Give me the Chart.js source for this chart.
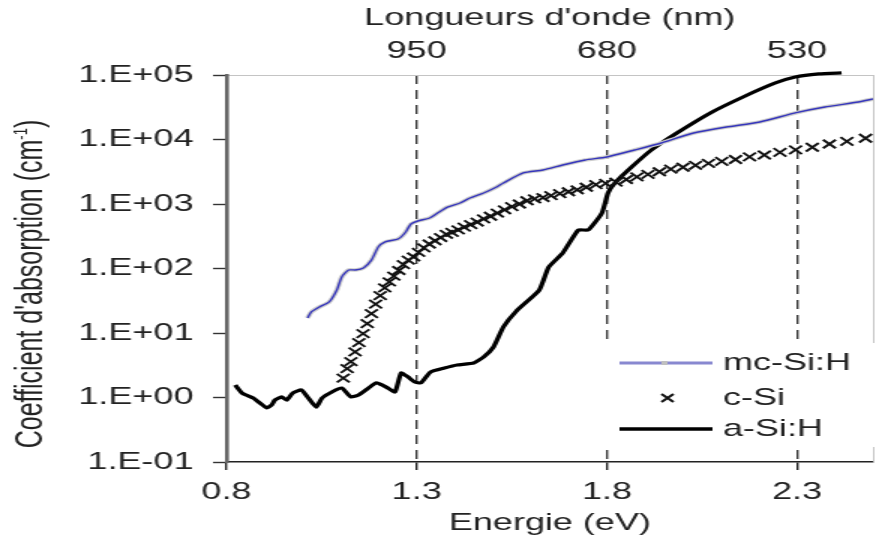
<!DOCTYPE html>
<html>
<head>
<meta charset="utf-8">
<script src="https://cdn.jsdelivr.net/npm/chart.js"></script>
<style>
  html, body { margin: 0; padding: 0; background: #fff; overflow: hidden; }
  /* l'image d'origine est etiree horizontalement : on dessine sur 590px puis on etire x1.5 */
  #wrap { width: 590px; height: 546px; transform: scaleX(1.5); transform-origin: 0 0; }
</style>
</head>
<body>
<div id="wrap"><canvas id="absorption" width="590" height="546"></canvas></div>
<script>
// axes
const xTicks = [0.8, 1.3, 1.8, 2.3];
const topTicks = [1.3, 1.8, 2.3];
const topLabels = ['950', '680', '530'];
const yTicks = [0.1, 1, 10, 100, 1000, 10000, 100000];
const yLabels = ['1.E-01', '1.E+00', '1.E+01', '1.E+02', '1.E+03', '1.E+04', '1.E+05'];

// mc-Si:H
const energieMc = [1.013, 1.023, 1.044, 1.070, 1.090, 1.103, 1.121, 1.139, 1.160, 1.181, 1.199, 1.217, 1.251, 1.269, 1.285, 1.303, 1.334, 1.355, 1.381, 1.414, 1.440, 1.476, 1.510, 1.528, 1.580, 1.632, 1.684, 1.743, 1.800, 1.873, 1.943, 2.028, 2.114, 2.202, 2.295, 2.373, 2.461, 2.500];
const alphaMc = [17.1, 21.2, 25.3, 30.3, 46.4, 73.9, 94.8, 94.8, 102, 135, 215, 258, 287, 355, 490, 545, 607, 725, 897, 1037, 1239, 1482, 1837, 2118, 3027, 3367, 4027, 4812, 5357, 6880, 8830, 12600, 15600, 18700, 25800, 31900, 38100, 42500];

// c-Si (un point tous les 10 nm)
const energieC = [1.107, 1.117, 1.127, 1.138, 1.148, 1.159, 1.170, 1.181, 1.192, 1.204, 1.216, 1.228, 1.240, 1.253, 1.265, 1.278, 1.292, 1.305, 1.319, 1.333, 1.348, 1.363, 1.378, 1.393, 1.409, 1.425, 1.442, 1.459, 1.476, 1.494, 1.512, 1.531, 1.550, 1.570, 1.590, 1.610, 1.632, 1.653, 1.676, 1.699, 1.722, 1.746, 1.771, 1.797, 1.824, 1.851, 1.879, 1.908, 1.938, 1.968, 2.000, 2.033, 2.067, 2.102, 2.138, 2.175, 2.214, 2.255, 2.296, 2.340, 2.385, 2.431, 2.480];
const alphaC = [2.0, 2.8, 3.6, 5.1, 7.1, 9.8, 14, 20, 28, 38, 50, 62, 76, 93, 115, 135, 151, 178, 209, 240, 269, 302, 339, 363, 398, 437, 479, 525, 589, 646, 724, 813, 912, 1000, 1122, 1202, 1259, 1349, 1445, 1549, 1660, 1820, 1995, 2089, 2188, 2399, 2630, 2884, 3162, 3467, 3715, 3981, 4266, 4571, 4898, 5370, 5754, 6310, 6918, 7586, 8511, 9333, 10470];

// a-Si:H
const energieA = [0.823, 0.841, 0.870, 0.888, 0.906, 0.919, 0.927, 0.945, 0.958, 0.974, 0.997, 1.013, 1.036, 1.051, 1.077, 1.103, 1.127, 1.147, 1.173, 1.194, 1.220, 1.243, 1.259, 1.277, 1.295, 1.311, 1.336, 1.373, 1.406, 1.450, 1.476, 1.502, 1.528, 1.562, 1.622, 1.647, 1.684, 1.725, 1.751, 1.787, 1.803, 1.821, 1.865, 1.917, 1.984, 2.072, 2.158, 2.243, 2.295, 2.357, 2.417];
const alphaA = [1.56, 1.17, 0.98, 0.82, 0.69, 0.77, 0.91, 1.02, 0.91, 1.17, 1.31, 1.02, 0.71, 0.98, 1.22, 1.40, 1.02, 1.09, 1.40, 1.68, 1.45, 1.22, 2.40, 2.08, 1.74, 1.68, 2.48, 2.86, 3.19, 3.43, 4.25, 6.07, 12.4, 21.9, 46, 105, 174, 395, 395, 725, 1482, 2118, 3750, 6880, 12600, 25800, 45600, 75200, 93100, 104000, 108000];

const points = (xs, ys) => xs.map((e, i) => ({ x: e, y: ys[i] }));

Chart.defaults.font.family = '"Liberation Sans", Arial, sans-serif';
Chart.defaults.font.size = 24;
Chart.defaults.color = '#222';

// titre de l'axe y avec exposant
const titreY = {
  id: 'titreY',
  afterDraw(chart) {
    const ctx = chart.ctx;
    const main = "Coefficient d'absorption (cm";
    const sup = '-1';
    const fin = ')';
    ctx.save();
    ctx.translate(21, 284);
    ctx.rotate(-Math.PI / 2);
    ctx.fillStyle = '#222';
    ctx.textBaseline = 'middle';
    ctx.font = '25px "Liberation Sans", Arial, sans-serif';
    const w1 = ctx.measureText(main).width;
    const w3 = ctx.measureText(fin).width;
    ctx.font = '13px "Liberation Sans", Arial, sans-serif';
    const w2 = ctx.measureText(sup).width;
    let x = -(w1 + w2 + w3) / 2;
    ctx.font = '25px "Liberation Sans", Arial, sans-serif';
    ctx.fillText(main, x, 0);
    x += w1;
    ctx.font = '13px "Liberation Sans", Arial, sans-serif';
    ctx.fillText(sup, x, -7);
    x += w2;
    ctx.font = '25px "Liberation Sans", Arial, sans-serif';
    ctx.fillText(fin, x, 0);
    ctx.restore();
  }
};

// legende dans le coin bas droit
const legende = {
  id: 'legende',
  afterDraw(chart) {
    const ctx = chart.ctx;
    ctx.save();
    ctx.fillStyle = '#fff';
    ctx.fillRect(401, 343, 186, 104);
    ctx.font = '24px "Liberation Sans", Arial, sans-serif';
    ctx.textBaseline = 'middle';
    ctx.lineCap = 'butt';
    // mc-Si:H
    ctx.strokeStyle = '#8888d0';
    ctx.lineWidth = 3;
    ctx.beginPath(); ctx.moveTo(413, 363); ctx.lineTo(475, 363); ctx.stroke();
    ctx.fillStyle = '#c0c0c0';
    ctx.fillRect(441, 361, 4, 4);
    // c-Si
    ctx.strokeStyle = '#111';
    ctx.lineWidth = 1.9;
    ctx.beginPath();
    ctx.moveTo(441, 394); ctx.lineTo(449, 402);
    ctx.moveTo(441, 402); ctx.lineTo(449, 394);
    ctx.stroke();
    // a-Si:H
    ctx.strokeStyle = '#000';
    ctx.lineWidth = 3.5;
    ctx.beginPath(); ctx.moveTo(413, 429); ctx.lineTo(475, 429); ctx.stroke();
    ctx.fillStyle = '#222';
    ctx.fillText('mc-Si:H', 482, 363);
    ctx.fillText('c-Si', 482, 398);
    ctx.fillText('a-Si:H', 482, 429);
    ctx.restore();
  }
};

// l'ordre des datasets : le premier est dessine au-dessus
new Chart(document.getElementById('absorption'), {
  type: 'scatter',
  data: {
    datasets: [
      {
        label: 'mc-Si:H',
        data: points(energieMc, alphaMc),
        showLine: true,
        borderColor: '#3636bc',
        borderWidth: 1.4,
        pointRadius: 0,
        tension: 0.2
      },
      {
        label: 'mc-Si:H (fond)',
        data: points(energieMc, alphaMc),
        showLine: true,
        borderColor: '#cdcdcd',
        borderWidth: 3.6,
        pointRadius: 0,
        tension: 0.2
      },
      {
        label: 'c-Si',
        data: points(energieC, alphaC),
        showLine: false,
        pointStyle: 'crossRot',
        pointRadius: 6,
        pointBorderWidth: 1.9,
        borderColor: '#111',
        backgroundColor: '#111'
      },
      {
        label: 'a-Si:H',
        data: points(energieA, alphaA),
        showLine: true,
        borderColor: '#000',
        borderWidth: 3.2,
        pointRadius: 0,
        tension: 0.15,
        clip: { left: 0, top: 8, right: 0, bottom: 0 }
      }
    ]
  },
  options: {
    responsive: false,
    animation: false,
    layout: { padding: 0 },
    plugins: { legend: { display: false }, tooltip: { enabled: false } },
    scales: {
      x: {
        type: 'linear',
        position: 'bottom',
        min: 0.8,
        max: 2.5,
        afterBuildTicks: s => { s.ticks = xTicks.map(v => ({ value: v })); },
        afterFit: s => { s.height = 84; },
        ticks: { callback: v => v.toFixed(1), autoSkip: false, maxRotation: 0, padding: 8 },
        grid: { color: '#3a3a3a', lineWidth: 1.4, tickLength: 8, tickColor: '#222', tickWidth: 1.4 },
        border: { color: '#222', width: 1.6, dash: [9, 6] },
        title: { display: true, text: 'Energie (eV)', padding: { top: 0, bottom: 8 } }
      },
      x2: {
        type: 'linear',
        position: 'top',
        min: 0.8,
        max: 2.5,
        afterBuildTicks: s => { s.ticks = topTicks.map(v => ({ value: v })); },
        afterFit: s => { s.height = 75; },
        ticks: { callback: (v, i) => topLabels[i], autoSkip: false, maxRotation: 0, padding: 9 },
        grid: { display: false, drawTicks: false },
        border: { color: '#c4c4c4', width: 1 },
        title: { display: true, text: "Longueurs d'onde (nm)", padding: { top: 4, bottom: 0 } }
      },
      y: {
        type: 'logarithmic',
        position: 'left',
        min: 0.1,
        max: 100000,
        afterBuildTicks: s => { s.ticks = yTicks.map(v => ({ value: v, major: true })); },
        afterFit: s => { s.width = 151; },
        ticks: { callback: (v, i) => yLabels[i], autoSkip: false, padding: 13 },
        grid: { drawOnChartArea: false, tickLength: 9, tickColor: '#333', tickWidth: 1.4 },
        border: { color: '#666', width: 2.6 }
      },
      y2: {
        type: 'linear',
        position: 'right',
        min: 0,
        max: 1,
        afterFit: s => { s.width = 2; },
        ticks: { display: false },
        grid: { display: false, drawTicks: false },
        border: { color: '#c4c4c4', width: 1 }
      }
    }
  },
  plugins: [titreY, legende]
});
</script>
</body>
</html>
